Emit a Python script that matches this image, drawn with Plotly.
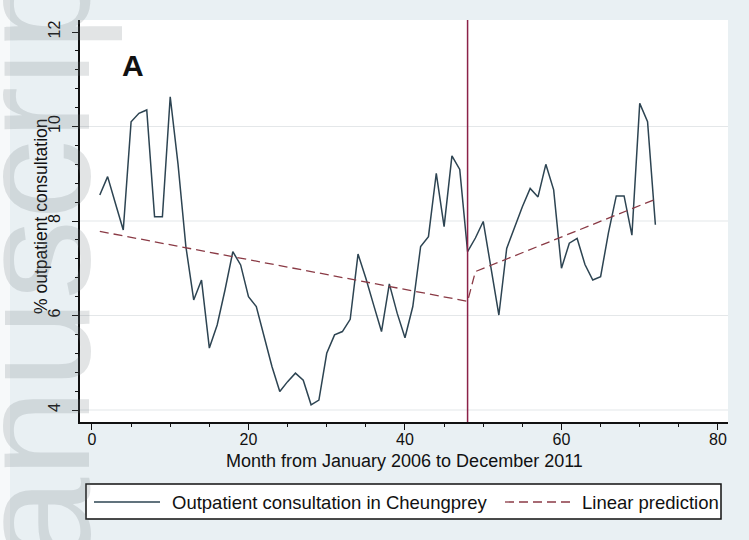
import plotly.graph_objects as go

# Monthly share of outpatient consultations, Jan 2006 (month 1) .. Dec 2011 (month 72)
months = list(range(1, 73))
outpatient_pct = [
    8.55, 8.94, 8.37, 7.81, 10.10, 10.28, 10.35, 8.09, 8.09, 10.63,
    9.20, 7.46, 6.33, 6.75, 5.31, 5.80, 6.54, 7.35, 7.07, 6.40,
    6.19, 5.55, 4.92, 4.39, 4.60, 4.78, 4.63, 4.11, 4.21, 5.20,
    5.59, 5.66, 5.92, 7.30, 6.79, 6.22, 5.66, 6.67, 6.05, 5.53,
    6.19, 7.46, 7.67, 9.01, 7.88, 9.38, 9.09, 7.35, 7.64, 7.99,
    6.96, 6.01, 7.42, 7.88, 8.30, 8.69, 8.51, 9.20, 8.66, 7.00,
    7.53, 7.63, 7.08, 6.75, 6.82, 7.75, 8.53, 8.53, 7.70, 10.49,
    10.10, 7.92,
]

# Segmented linear prediction (before / after the intervention)
pred_months = [1, 48, 49, 72]
pred_pct = [7.78, 6.30, 6.93, 8.46]

intervention_month = 48
grid_levels = [4, 6, 8, 10]

series_name = "Outpatient consultation in Cheungprey"
pred_name = "Linear prediction"
x_title = "Month from January 2006 to December 2011"
y_title = "% outpatient consultation"
panel_label = "A"
watermark = "Manuscript"

# page / plot-area geometry in pixels
W, H = 749, 540
L, R, T, B = 80, 728, 20, 422

FONT = "Liberation Sans, Arial, sans-serif"
SERIES_COLOR = "#2d4452"
PRED_COLOR = "#8a3a45"
VLINE_COLOR = "#8b2148"
BG = "#e9f0f3"


def fx(px):
    return (px - L) / (R - L)


def fy(py):
    return (B - py) / (B - T)


fig = go.Figure()
fig.add_trace(go.Scatter(
    x=months, y=outpatient_pct, mode="lines", name=series_name,
    line=dict(color=SERIES_COLOR, width=1.5), showlegend=False,
))
fig.add_trace(go.Scatter(
    x=pred_months, y=pred_pct, mode="lines", name=pred_name,
    line=dict(color=PRED_COLOR, width=1.3, dash="9px,5px"), showlegend=False,
))

shapes = []
for g in grid_levels:
    shapes.append(dict(type="line", xref="paper", yref="y", x0=0, x1=1, y0=g, y1=g,
                       line=dict(color="#e4e7e9", width=1.2), layer="below"))
shapes.append(dict(type="line", xref="x", yref="paper", x0=intervention_month,
                   x1=intervention_month, y0=0, y1=1,
                   line=dict(color=VLINE_COLOR, width=1.5)))
# page margin strip on the left
shapes.append(dict(type="rect", xref="paper", yref="paper", x0=fx(0), x1=fx(10),
                   y0=fy(H), y1=fy(0), fillcolor="#f7f9fa", line=dict(width=0),
                   layer="below"))
# legend frame and keys
shapes.append(dict(type="rect", xref="paper", yref="paper", x0=fx(86), x1=fx(721),
                   y0=fy(519), y1=fy(484), fillcolor="white",
                   line=dict(color="#111111", width=1.5)))
shapes.append(dict(type="line", xref="paper", yref="paper", x0=fx(94), x1=fx(160),
                   y0=fy(502), y1=fy(502), line=dict(color=SERIES_COLOR, width=1.5)))
shapes.append(dict(type="line", xref="paper", yref="paper", x0=fx(505), x1=fx(574),
                   y0=fy(502), y1=fy(502),
                   line=dict(color=PRED_COLOR, width=1.3, dash="9px,5px")))
fig.update_layout(shapes=shapes)

annotations = [
    dict(text="<b>" + panel_label + "</b>", x=fx(133), y=fy(65), xref="paper",
         yref="paper", showarrow=False,
         font=dict(family=FONT, size=30, color="#111111"),
         xanchor="center", yanchor="middle"),
    dict(text=x_title, x=fx(404), y=fy(461), xref="paper", yref="paper",
         showarrow=False, font=dict(family=FONT, size=18, color="#111111"),
         xanchor="center", yanchor="middle"),
    dict(text=y_title, x=fx(41), y=fy(216), xref="paper", yref="paper",
         showarrow=False, textangle=-90,
         font=dict(family=FONT, size=17.5, color="#111111"),
         xanchor="center", yanchor="middle"),
    dict(text=series_name, x=fx(170), y=fy(502), xref="paper", yref="paper",
         showarrow=False, font=dict(family=FONT, size=18.5, color="#111111"),
         xanchor="left", yanchor="middle"),
    dict(text=pred_name, x=fx(580), y=fy(502), xref="paper", yref="paper",
         showarrow=False, font=dict(family=FONT, size=18.5, color="#111111"),
         xanchor="left", yanchor="middle"),
    dict(text=watermark, x=fx(33), y=fy(309), xref="paper", yref="paper",
         showarrow=False, textangle=-90,
         font=dict(family=FONT, size=160, color="rgba(110,118,124,0.20)"),
         xanchor="center", yanchor="middle"),
]
fig.update_layout(annotations=annotations)

axis_common = dict(
    showline=True, linecolor="#111111", linewidth=1.5, mirror=False,
    ticks="outside", ticklen=6, tickwidth=1.3, tickcolor="#111111",
    showgrid=False, zeroline=False,
    tickfont=dict(family=FONT, size=16, color="#111111"),
)
fig.update_xaxes(
    range=[-1.53, 81.28], tick0=0, dtick=20, ticklabelstandoff=-4,
    minor=dict(dtick=5, tick0=0, ticks="outside", ticklen=3, tickwidth=1.2,
               tickcolor="#111111", showgrid=False),
    **axis_common,
)
fig.update_yaxes(
    range=[3.746, 12.254], tick0=4, dtick=2, tickangle=-90, ticklabelstandoff=6,
    minor=dict(dtick=0.4, tick0=4, ticks="outside", ticklen=3, tickwidth=1.2,
               tickcolor="#111111", showgrid=False),
    **axis_common,
)

fig.update_layout(
    width=W, height=H, autosize=False,
    margin=dict(l=L, r=W - R, t=T, b=H - B, pad=0),
    paper_bgcolor=BG, plot_bgcolor="white",
    showlegend=False,
    font=dict(family=FONT, color="#111111"),
)

fig.write_html("out.html")
